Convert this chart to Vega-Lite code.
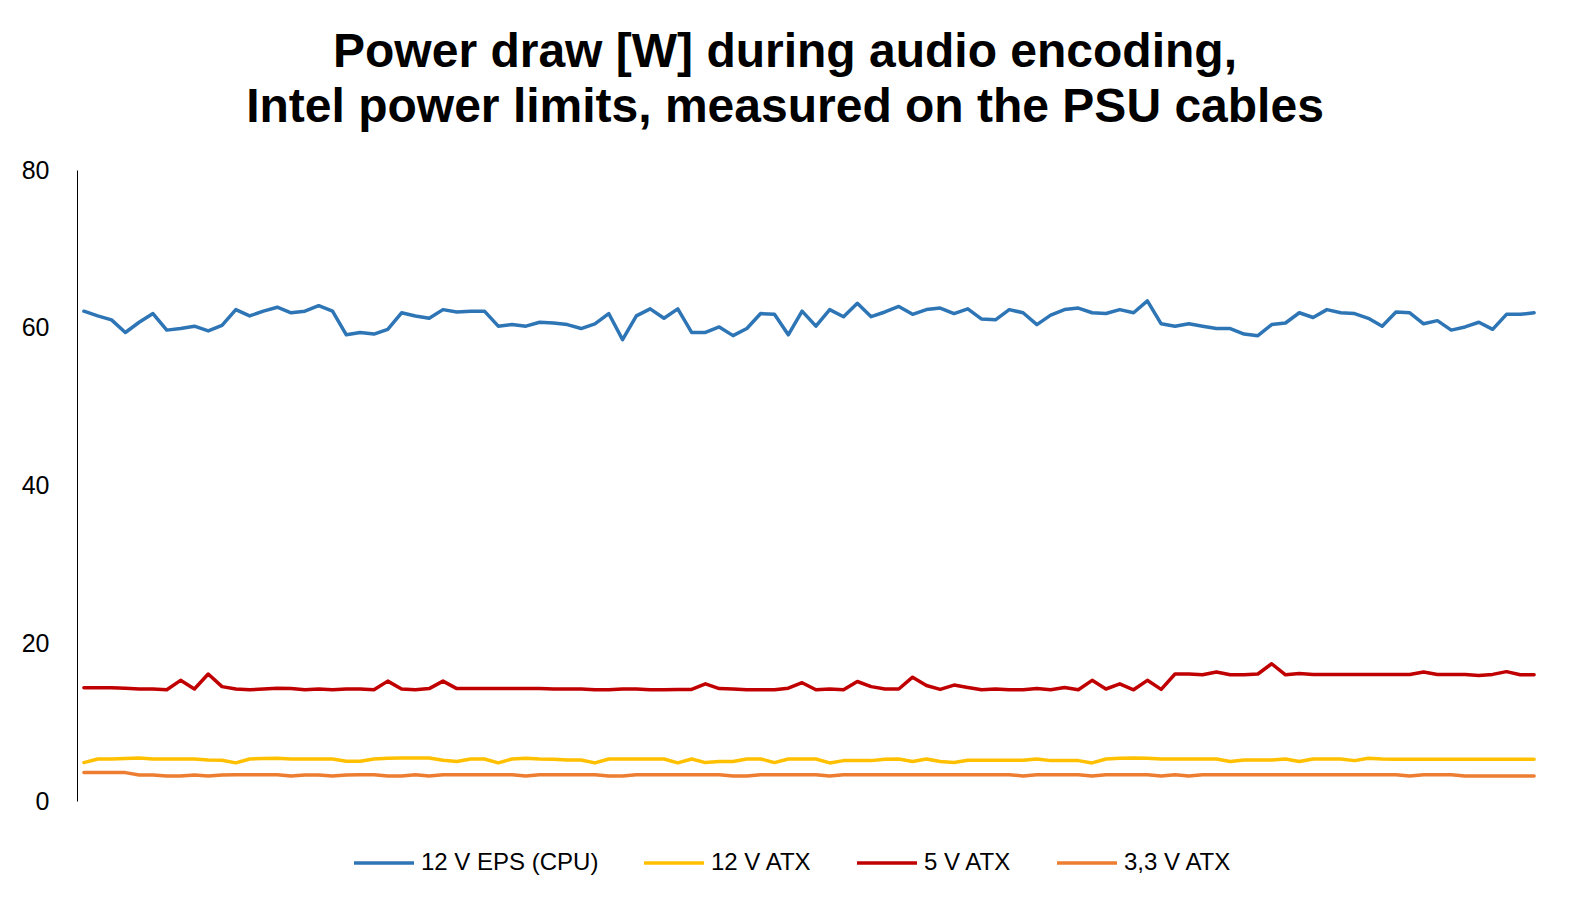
{
  "$schema": "https://vega.github.io/schema/vega-lite/v6.json",
  "width": 1464,
  "height": 631,
  "autosize": {"type": "none"},
  "padding": {"left": 77, "top": 170, "right": 30, "bottom": 106},
  "background": "white",
  "title": {
    "text": ["Power draw [W] during audio encoding,", "Intel power limits, measured on the PSU cables"],
    "font": "Liberation Sans",
    "fontWeight": "bold",
    "fontSize": 48,
    "lineHeight": 55,
    "color": "black",
    "anchor": "middle",
    "dx": -24,
    "offset": 26
  },
  "data": {
    "values": [
      {"t":0,"EPS12":62.1,"ATX12":4.87,"ATX5":14.35,"ATX33":3.6},
      {"t":1,"EPS12":61.5,"ATX12":5.33,"ATX5":14.35,"ATX33":3.6},
      {"t":2,"EPS12":61.0,"ATX12":5.33,"ATX5":14.35,"ATX33":3.6},
      {"t":3,"EPS12":59.4,"ATX12":5.38,"ATX5":14.3,"ATX33":3.6},
      {"t":4,"EPS12":60.7,"ATX12":5.46,"ATX5":14.2,"ATX33":3.3},
      {"t":5,"EPS12":61.8,"ATX12":5.33,"ATX5":14.2,"ATX33":3.3},
      {"t":6,"EPS12":59.7,"ATX12":5.33,"ATX5":14.1,"ATX33":3.17},
      {"t":7,"EPS12":59.9,"ATX12":5.33,"ATX5":15.3,"ATX33":3.17},
      {"t":8,"EPS12":60.2,"ATX12":5.33,"ATX5":14.2,"ATX33":3.3},
      {"t":9,"EPS12":59.6,"ATX12":5.2,"ATX5":16.1,"ATX33":3.17},
      {"t":10,"EPS12":60.3,"ATX12":5.16,"ATX5":14.5,"ATX33":3.3},
      {"t":11,"EPS12":62.3,"ATX12":4.83,"ATX5":14.2,"ATX33":3.34},
      {"t":12,"EPS12":61.5,"ATX12":5.33,"ATX5":14.1,"ATX33":3.34},
      {"t":13,"EPS12":62.1,"ATX12":5.38,"ATX5":14.2,"ATX33":3.34},
      {"t":14,"EPS12":62.6,"ATX12":5.42,"ATX5":14.3,"ATX33":3.34},
      {"t":15,"EPS12":61.9,"ATX12":5.33,"ATX5":14.25,"ATX33":3.17},
      {"t":16,"EPS12":62.1,"ATX12":5.33,"ATX5":14.1,"ATX33":3.3},
      {"t":17,"EPS12":62.8,"ATX12":5.33,"ATX5":14.2,"ATX33":3.3},
      {"t":18,"EPS12":62.1,"ATX12":5.33,"ATX5":14.1,"ATX33":3.17},
      {"t":19,"EPS12":59.1,"ATX12":5.04,"ATX5":14.2,"ATX33":3.3},
      {"t":20,"EPS12":59.4,"ATX12":5.04,"ATX5":14.2,"ATX33":3.34},
      {"t":21,"EPS12":59.2,"ATX12":5.33,"ATX5":14.1,"ATX33":3.34},
      {"t":22,"EPS12":59.8,"ATX12":5.42,"ATX5":15.2,"ATX33":3.17},
      {"t":23,"EPS12":61.9,"ATX12":5.46,"ATX5":14.2,"ATX33":3.17},
      {"t":24,"EPS12":61.5,"ATX12":5.46,"ATX5":14.1,"ATX33":3.34},
      {"t":25,"EPS12":61.2,"ATX12":5.46,"ATX5":14.25,"ATX33":3.17},
      {"t":26,"EPS12":62.3,"ATX12":5.16,"ATX5":15.2,"ATX33":3.34},
      {"t":27,"EPS12":62.0,"ATX12":5.0,"ATX5":14.25,"ATX33":3.34},
      {"t":28,"EPS12":62.1,"ATX12":5.33,"ATX5":14.25,"ATX33":3.34},
      {"t":29,"EPS12":62.1,"ATX12":5.33,"ATX5":14.25,"ATX33":3.34},
      {"t":30,"EPS12":60.2,"ATX12":4.83,"ATX5":14.25,"ATX33":3.34},
      {"t":31,"EPS12":60.4,"ATX12":5.33,"ATX5":14.25,"ATX33":3.34},
      {"t":32,"EPS12":60.2,"ATX12":5.42,"ATX5":14.25,"ATX33":3.17},
      {"t":33,"EPS12":60.7,"ATX12":5.33,"ATX5":14.25,"ATX33":3.34},
      {"t":34,"EPS12":60.6,"ATX12":5.3,"ATX5":14.2,"ATX33":3.34},
      {"t":35,"EPS12":60.4,"ATX12":5.2,"ATX5":14.2,"ATX33":3.34},
      {"t":36,"EPS12":59.9,"ATX12":5.2,"ATX5":14.2,"ATX33":3.34},
      {"t":37,"EPS12":60.5,"ATX12":4.83,"ATX5":14.1,"ATX33":3.34},
      {"t":38,"EPS12":61.8,"ATX12":5.33,"ATX5":14.1,"ATX33":3.17},
      {"t":39,"EPS12":58.5,"ATX12":5.33,"ATX5":14.2,"ATX33":3.17},
      {"t":40,"EPS12":61.5,"ATX12":5.33,"ATX5":14.2,"ATX33":3.34},
      {"t":41,"EPS12":62.4,"ATX12":5.33,"ATX5":14.1,"ATX33":3.34},
      {"t":42,"EPS12":61.2,"ATX12":5.33,"ATX5":14.1,"ATX33":3.34},
      {"t":43,"EPS12":62.4,"ATX12":4.83,"ATX5":14.15,"ATX33":3.34},
      {"t":44,"EPS12":59.4,"ATX12":5.33,"ATX5":14.15,"ATX33":3.34},
      {"t":45,"EPS12":59.4,"ATX12":4.87,"ATX5":14.85,"ATX33":3.34},
      {"t":46,"EPS12":60.1,"ATX12":5.0,"ATX5":14.25,"ATX33":3.34},
      {"t":47,"EPS12":59.0,"ATX12":5.0,"ATX5":14.2,"ATX33":3.17},
      {"t":48,"EPS12":59.9,"ATX12":5.33,"ATX5":14.1,"ATX33":3.17},
      {"t":49,"EPS12":61.8,"ATX12":5.33,"ATX5":14.1,"ATX33":3.34},
      {"t":50,"EPS12":61.7,"ATX12":4.87,"ATX5":14.1,"ATX33":3.34},
      {"t":51,"EPS12":59.1,"ATX12":5.33,"ATX5":14.3,"ATX33":3.34},
      {"t":52,"EPS12":62.1,"ATX12":5.33,"ATX5":15.0,"ATX33":3.34},
      {"t":53,"EPS12":60.2,"ATX12":5.33,"ATX5":14.1,"ATX33":3.34},
      {"t":54,"EPS12":62.3,"ATX12":4.83,"ATX5":14.2,"ATX33":3.17},
      {"t":55,"EPS12":61.4,"ATX12":5.12,"ATX5":14.1,"ATX33":3.34},
      {"t":56,"EPS12":63.1,"ATX12":5.12,"ATX5":15.15,"ATX33":3.34},
      {"t":57,"EPS12":61.4,"ATX12":5.12,"ATX5":14.5,"ATX33":3.34},
      {"t":58,"EPS12":62.0,"ATX12":5.3,"ATX5":14.2,"ATX33":3.34},
      {"t":59,"EPS12":62.7,"ATX12":5.33,"ATX5":14.2,"ATX33":3.34},
      {"t":60,"EPS12":61.7,"ATX12":5.0,"ATX5":15.7,"ATX33":3.34},
      {"t":61,"EPS12":62.3,"ATX12":5.33,"ATX5":14.65,"ATX33":3.34},
      {"t":62,"EPS12":62.5,"ATX12":5.0,"ATX5":14.15,"ATX33":3.34},
      {"t":63,"EPS12":61.8,"ATX12":4.87,"ATX5":14.7,"ATX33":3.34},
      {"t":64,"EPS12":62.4,"ATX12":5.16,"ATX5":14.4,"ATX33":3.34},
      {"t":65,"EPS12":61.1,"ATX12":5.16,"ATX5":14.1,"ATX33":3.34},
      {"t":66,"EPS12":61.0,"ATX12":5.16,"ATX5":14.2,"ATX33":3.34},
      {"t":67,"EPS12":62.3,"ATX12":5.16,"ATX5":14.1,"ATX33":3.34},
      {"t":68,"EPS12":61.9,"ATX12":5.16,"ATX5":14.1,"ATX33":3.17},
      {"t":69,"EPS12":60.4,"ATX12":5.33,"ATX5":14.25,"ATX33":3.34},
      {"t":70,"EPS12":61.6,"ATX12":5.12,"ATX5":14.1,"ATX33":3.34},
      {"t":71,"EPS12":62.3,"ATX12":5.12,"ATX5":14.4,"ATX33":3.34},
      {"t":72,"EPS12":62.5,"ATX12":5.12,"ATX5":14.1,"ATX33":3.34},
      {"t":73,"EPS12":61.9,"ATX12":4.83,"ATX5":15.3,"ATX33":3.17},
      {"t":74,"EPS12":61.8,"ATX12":5.33,"ATX5":14.2,"ATX33":3.34},
      {"t":75,"EPS12":62.3,"ATX12":5.42,"ATX5":14.85,"ATX33":3.34},
      {"t":76,"EPS12":61.9,"ATX12":5.46,"ATX5":14.1,"ATX33":3.34},
      {"t":77,"EPS12":63.4,"ATX12":5.42,"ATX5":15.3,"ATX33":3.34},
      {"t":78,"EPS12":60.5,"ATX12":5.33,"ATX5":14.15,"ATX33":3.17},
      {"t":79,"EPS12":60.2,"ATX12":5.33,"ATX5":16.1,"ATX33":3.34},
      {"t":80,"EPS12":60.5,"ATX12":5.33,"ATX5":16.1,"ATX33":3.17},
      {"t":81,"EPS12":60.2,"ATX12":5.33,"ATX5":16.0,"ATX33":3.34},
      {"t":82,"EPS12":59.9,"ATX12":5.33,"ATX5":16.35,"ATX33":3.34},
      {"t":83,"EPS12":59.9,"ATX12":5.0,"ATX5":16.0,"ATX33":3.34},
      {"t":84,"EPS12":59.2,"ATX12":5.2,"ATX5":16.0,"ATX33":3.34},
      {"t":85,"EPS12":59.0,"ATX12":5.2,"ATX5":16.1,"ATX33":3.34},
      {"t":86,"EPS12":60.4,"ATX12":5.2,"ATX5":17.4,"ATX33":3.34},
      {"t":87,"EPS12":60.6,"ATX12":5.33,"ATX5":16.0,"ATX33":3.34},
      {"t":88,"EPS12":61.9,"ATX12":5.0,"ATX5":16.15,"ATX33":3.34},
      {"t":89,"EPS12":61.3,"ATX12":5.33,"ATX5":16.05,"ATX33":3.34},
      {"t":90,"EPS12":62.3,"ATX12":5.33,"ATX5":16.05,"ATX33":3.34},
      {"t":91,"EPS12":61.9,"ATX12":5.33,"ATX5":16.05,"ATX33":3.34},
      {"t":92,"EPS12":61.8,"ATX12":5.12,"ATX5":16.05,"ATX33":3.34},
      {"t":93,"EPS12":61.2,"ATX12":5.42,"ATX5":16.05,"ATX33":3.34},
      {"t":94,"EPS12":60.2,"ATX12":5.33,"ATX5":16.05,"ATX33":3.34},
      {"t":95,"EPS12":62.0,"ATX12":5.3,"ATX5":16.05,"ATX33":3.34},
      {"t":96,"EPS12":61.9,"ATX12":5.3,"ATX5":16.05,"ATX33":3.17},
      {"t":97,"EPS12":60.5,"ATX12":5.3,"ATX5":16.35,"ATX33":3.34},
      {"t":98,"EPS12":60.9,"ATX12":5.3,"ATX5":16.05,"ATX33":3.34},
      {"t":99,"EPS12":59.7,"ATX12":5.3,"ATX5":16.05,"ATX33":3.34},
      {"t":100,"EPS12":60.1,"ATX12":5.3,"ATX5":16.05,"ATX33":3.17},
      {"t":101,"EPS12":60.7,"ATX12":5.3,"ATX5":15.9,"ATX33":3.17},
      {"t":102,"EPS12":59.8,"ATX12":5.3,"ATX5":16.05,"ATX33":3.17},
      {"t":103,"EPS12":61.7,"ATX12":5.3,"ATX5":16.4,"ATX33":3.17},
      {"t":104,"EPS12":61.7,"ATX12":5.3,"ATX5":16.0,"ATX33":3.17},
      {"t":105,"EPS12":61.9,"ATX12":5.3,"ATX5":16.0,"ATX33":3.17}
    ]
  },
  "transform": [
    {"fold": ["EPS12", "ATX12", "ATX5", "ATX33"], "as": ["series", "watts"]}
  ],
  "mark": {"type": "line", "strokeWidth": 3.5, "strokeJoin": "round", "strokeCap": "round"},
  "encoding": {
    "x": {
      "field": "t",
      "type": "quantitative",
      "scale": {"domain": [-0.5, 105.5], "nice": false, "zero": false},
      "axis": null
    },
    "y": {
      "field": "watts",
      "type": "quantitative",
      "scale": {"domain": [0, 80], "nice": false},
      "axis": {
        "values": [0, 20, 40, 60, 80],
        "title": null,
        "grid": false,
        "ticks": false,
        "domainColor": "black",
        "domainWidth": 1,
        "labelFont": "Liberation Sans",
        "labelFontSize": 25,
        "labelColor": "black",
        "labelPadding": 28
      }
    },
    "color": {
      "field": "series",
      "type": "nominal",
      "scale": {
        "domain": ["EPS12", "ATX12", "ATX5", "ATX33"],
        "range": ["#2E75B6", "#FFC000", "#C00000", "#ED7D31"]
      },
      "legend": {
        "title": null,
        "orient": "none",
        "direction": "horizontal",
        "legendX": 275,
        "legendY": 661,
        "symbolType": "stroke",
        "symbolSize": 3600,
        "symbolStrokeWidth": 3.5,
        "labelFont": "Liberation Sans",
        "labelFontSize": 24,
        "labelColor": "black",
        "labelLimit": 0,
        "labelOffset": 5,
        "columnPadding": 38,
        "labelExpr": "{'EPS12': '12 V EPS (CPU)', 'ATX12': '12 V ATX', 'ATX5': '5 V ATX', 'ATX33': '3,3 V ATX'}[datum.value]"
      }
    },
    "order": {"field": "t"}
  },
  "config": {
    "view": {"stroke": null}
  }
}
